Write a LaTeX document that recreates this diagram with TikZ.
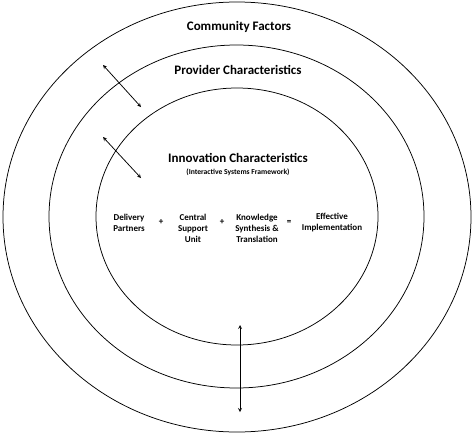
\documentclass[tikz,border=0pt]{standalone}
\usepackage{fontspec}
\setmainfont{Carlito}
\tikzset{
  heading/.style={font=\fontsize{13}{15}\selectfont\bfseries},
  subheading/.style={font=\fontsize{7.6}{9}\selectfont\bfseries},
  term/.style={align=center,font=\fontsize{9}{11}\selectfont\bfseries},
}
\begin{document}
\begin{tikzpicture}[>=stealth,x=1pt,y=-1pt,line width=0.75pt]
				\useasboundingbox (0,0) rectangle (474,434);
				%Vong ngoai
				\draw (237,217) ellipse [x radius=234pt, y radius=215pt];
				\node[heading] (community) at (239,27) {Community Factors};
				%Vong giua
				\draw (236.5,216.5) ellipse [x radius=187.5pt, y radius=171.5pt];
				\node[heading] (provider) at (238,70) {Provider Characteristics};
				%Vong trong
				\draw (237,216.5) ellipse [x radius=141pt, y radius=128.5pt];
				\node[heading] (innovation) at (238,158) {Innovation Characteristics};
				\node[subheading] (isf) at (238,172) {(Interactive Systems Framework)};
				%Cong thuc
				\node[term] (delivery) at (129,222.5) {Delivery\\Partners};
				\node[term] (plus1) at (161,222) {+};
				\node[term] (central) at (193,228) {Central\\Support\\Unit};
				\node[term] (plus2) at (222,222) {+};
				\node[term] (knowledge) at (257,228) {Knowledge\\Synthesis \&\\Translation};
				\node[term] (equals) at (289,222) {=};
				\node[term] (effective) at (332,222.5) {Effective\\Implementation};
				%Mui ten
				\coordinate (arrA1) at (103,65);
				\coordinate (arrA2) at (141,107);
				\coordinate (arrB1) at (103,137);
				\coordinate (arrB2) at (141,178);
				\coordinate (arrC1) at (240,325);
				\coordinate (arrC2) at (240,412);
				\draw [<->] (arrA1)--(arrA2);
				\draw [<->] (arrB1)--(arrB2);
				\draw [<->] (arrC1)--(arrC2);
\end{tikzpicture}
\end{document}
